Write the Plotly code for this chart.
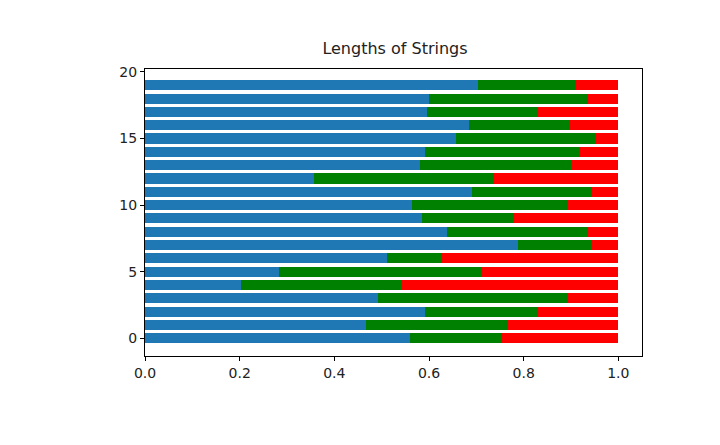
import plotly.graph_objects as go

positions = list(range(20))
blue_vals = [0.559, 0.467, 0.591, 0.493, 0.202, 0.283, 0.511, 0.789, 0.638, 0.585,
             0.564, 0.691, 0.356, 0.580, 0.591, 0.657, 0.685, 0.595, 0.601, 0.704]
green_ends = [0.754, 0.766, 0.830, 0.892, 0.543, 0.711, 0.626, 0.945, 0.935, 0.780,
              0.894, 0.944, 0.736, 0.900, 0.920, 0.953, 0.897, 0.831, 0.935, 0.911]
green_vals = [round(g - b, 3) for g, b in zip(green_ends, blue_vals)]
red_vals = [round(1 - g, 3) for g in green_ends]

x_ticks = [0.0, 0.2, 0.4, 0.6, 0.8, 1.0]
x_tick_labels = ["0.0", "0.2", "0.4", "0.6", "0.8", "1.0"]
y_ticks = [0, 5, 10, 15, 20]

fig = go.Figure()
for vals, color in [(blue_vals, "#1f77b4"), (green_vals, "#008000"), (red_vals, "#ff0000")]:
    fig.add_trace(go.Bar(
        y=positions, x=vals, orientation="h",
        marker=dict(color=color, line=dict(width=0)),
        width=0.76, showlegend=False,
    ))

axis_common = dict(
    showline=True, linecolor="black", linewidth=1, mirror=True,
    ticks="outside", ticklen=4, tickcolor="black", tickwidth=1,
    showgrid=False, zeroline=False,
    tickfont=dict(family="DejaVu Sans", size=14, color="#222"),
)

fig.update_layout(
    barmode="stack",
    width=720, height=445,
    margin=dict(l=137, r=86, t=61, b=97),
    paper_bgcolor="white", plot_bgcolor="white",
    bargap=0,
    title=dict(text="Lengths of Strings", x=0.5375, xanchor="center",
               y=1 - 40 / 445, yanchor="middle",
               font=dict(family="DejaVu Sans", size=16, color="#222")),
    xaxis=dict(range=[0, 1.05], tickvals=x_ticks, ticktext=x_tick_labels, **axis_common),
    yaxis=dict(range=[-1.33, 20.22], tickvals=y_ticks, **axis_common),
)

fig.write_html("out.html")
